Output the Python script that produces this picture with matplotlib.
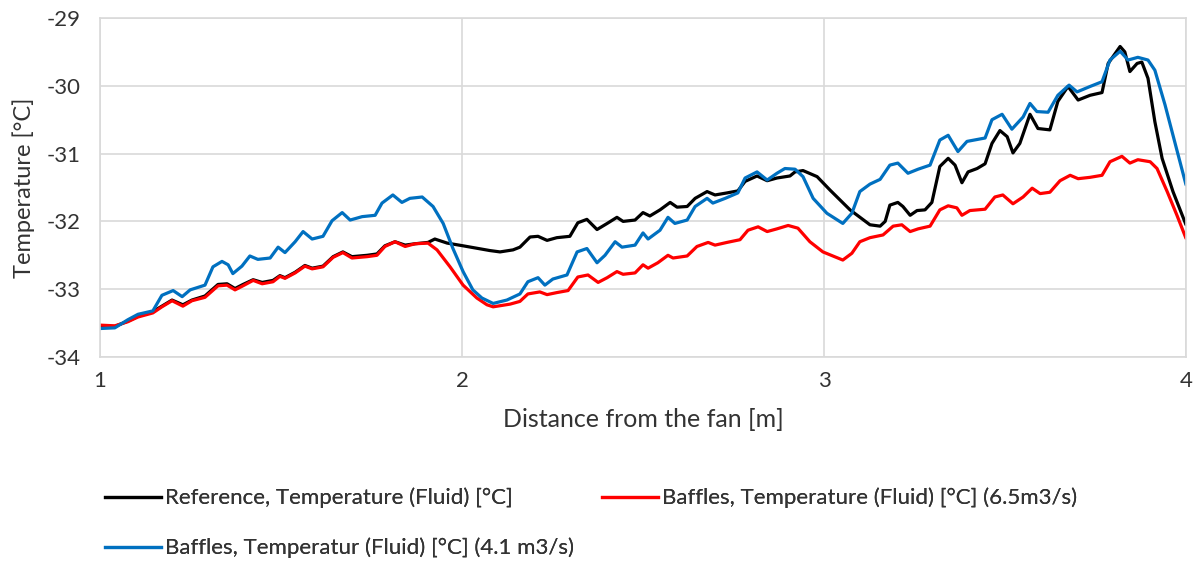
import matplotlib as mpl
mpl.use('Agg')
import matplotlib.pyplot as plt
from matplotlib.lines import Line2D

plt.rcParams['font.family'] = ['Lato', 'DejaVu Sans']
plt.rcParams['axes.unicode_minus'] = False

# distance from the fan [m] / fluid temperature [degC]
ref_x = [1.000, 1.041, 1.077, 1.105, 1.146, 1.171, 1.199, 1.229, 1.254, 1.290,
         1.326, 1.351, 1.373, 1.395, 1.423, 1.448, 1.478, 1.497, 1.511, 1.539,
         1.566, 1.586, 1.616, 1.644, 1.671, 1.696, 1.738, 1.765, 1.787, 1.815,
         1.843, 1.870, 1.906, 1.925, 1.959, 2.003, 2.077, 2.105, 2.141, 2.160,
         2.188, 2.210, 2.235, 2.262, 2.298, 2.320, 2.345, 2.373, 2.401, 2.428,
         2.445, 2.478, 2.500, 2.519, 2.547, 2.575, 2.594, 2.622, 2.644, 2.677,
         2.699, 2.732, 2.762, 2.782, 2.815, 2.843, 2.870, 2.906, 2.920, 2.942,
         2.981, 3.017, 3.072, 3.127, 3.155, 3.169, 3.182, 3.204, 3.218, 3.238,
         3.257, 3.279, 3.298, 3.320, 3.343, 3.362, 3.381, 3.398, 3.423, 3.445,
         3.464, 3.486, 3.506, 3.522, 3.541, 3.569, 3.591, 3.624, 3.646, 3.674,
         3.702, 3.735, 3.768, 3.785, 3.818, 3.831, 3.845, 3.865, 3.878, 3.895,
         3.914, 3.934, 3.964, 4.000]
ref_t = [-33.55, -33.55, -33.47, -33.40, -33.33, -33.25, -33.16, -33.23, -33.16, -33.10,
         -32.93, -32.92, -32.99, -32.93, -32.86, -32.90, -32.87, -32.80, -32.83, -32.75,
         -32.65, -32.69, -32.66, -32.52, -32.45, -32.52, -32.50, -32.48, -32.36, -32.30,
         -32.35, -32.33, -32.31, -32.26, -32.32, -32.36, -32.43, -32.45, -32.42, -32.38,
         -32.23, -32.22, -32.28, -32.24, -32.22, -32.02, -31.97, -32.12, -32.03, -31.94,
         -32.00, -31.98, -31.87, -31.92, -31.83, -31.72, -31.79, -31.78, -31.66, -31.56,
         -31.61, -31.58, -31.55, -31.41, -31.33, -31.40, -31.36, -31.33, -31.27, -31.25,
         -31.34, -31.54, -31.83, -32.05, -32.07, -32.00, -31.76, -31.72, -31.78, -31.91,
         -31.84, -31.83, -31.72, -31.19, -31.07, -31.17, -31.43, -31.27, -31.22, -31.15,
         -30.85, -30.66, -30.75, -30.99, -30.85, -30.42, -30.63, -30.65, -30.23, -30.01,
         -30.21, -30.14, -30.10, -29.67, -29.42, -29.50, -29.79, -29.67, -29.65, -29.89,
         -30.53, -31.07, -31.56, -32.05]

b65_x = [1.000, 1.041, 1.077, 1.105, 1.146, 1.171, 1.199, 1.229, 1.254, 1.290,
         1.326, 1.351, 1.373, 1.395, 1.423, 1.448, 1.478, 1.497, 1.511, 1.539,
         1.566, 1.586, 1.616, 1.644, 1.671, 1.696, 1.738, 1.765, 1.787, 1.815,
         1.843, 1.870, 1.906, 1.931, 1.967, 2.003, 2.041, 2.069, 2.086, 2.133,
         2.160, 2.182, 2.215, 2.235, 2.262, 2.293, 2.320, 2.348, 2.376, 2.401,
         2.428, 2.445, 2.478, 2.500, 2.514, 2.541, 2.569, 2.583, 2.622, 2.649,
         2.680, 2.699, 2.732, 2.768, 2.790, 2.818, 2.843, 2.870, 2.901, 2.928,
         2.961, 2.997, 3.052, 3.077, 3.099, 3.127, 3.163, 3.191, 3.215, 3.238,
         3.260, 3.293, 3.320, 3.343, 3.367, 3.381, 3.403, 3.445, 3.472, 3.494,
         3.522, 3.550, 3.575, 3.597, 3.624, 3.652, 3.680, 3.702, 3.735, 3.768,
         3.790, 3.823, 3.845, 3.867, 3.901, 3.920, 3.948, 3.975, 4.000]
b65_t = [-33.53, -33.54, -33.48, -33.41, -33.35, -33.26, -33.17, -33.25, -33.17, -33.12,
         -32.95, -32.94, -33.01, -32.95, -32.87, -32.92, -32.89, -32.81, -32.84, -32.76,
         -32.66, -32.70, -32.67, -32.53, -32.46, -32.54, -32.52, -32.50, -32.37, -32.30,
         -32.37, -32.33, -32.32, -32.42, -32.67, -32.94, -33.13, -33.23, -33.26, -33.22,
         -33.18, -33.07, -33.04, -33.08, -33.05, -33.02, -32.82, -32.79, -32.90, -32.83,
         -32.74, -32.78, -32.76, -32.64, -32.69, -32.61, -32.50, -32.54, -32.51, -32.37,
         -32.31, -32.35, -32.31, -32.27, -32.13, -32.08, -32.15, -32.11, -32.06, -32.10,
         -32.30, -32.45, -32.57, -32.47, -32.30, -32.24, -32.20, -32.07, -32.05, -32.15,
         -32.11, -32.07, -31.83, -31.77, -31.80, -31.91, -31.84, -31.82, -31.64, -31.61,
         -31.74, -31.64, -31.51, -31.59, -31.57, -31.40, -31.32, -31.37, -31.35, -31.32,
         -31.12, -31.04, -31.14, -31.09, -31.12, -31.22, -31.56, -31.91, -32.25]

b41_x = [1.000, 1.041, 1.077, 1.105, 1.146, 1.171, 1.202, 1.227, 1.249, 1.290,
         1.312, 1.337, 1.354, 1.367, 1.392, 1.414, 1.436, 1.470, 1.492, 1.511,
         1.539, 1.561, 1.586, 1.616, 1.641, 1.669, 1.691, 1.724, 1.760, 1.779,
         1.809, 1.834, 1.856, 1.890, 1.920, 1.948, 1.975, 2.003, 2.030, 2.055,
         2.086, 2.124, 2.160, 2.182, 2.210, 2.229, 2.251, 2.290, 2.318, 2.345,
         2.373, 2.395, 2.423, 2.442, 2.478, 2.500, 2.514, 2.547, 2.569, 2.588,
         2.622, 2.644, 2.677, 2.693, 2.727, 2.762, 2.782, 2.815, 2.843, 2.870,
         2.892, 2.920, 2.942, 2.970, 3.008, 3.052, 3.077, 3.099, 3.127, 3.155,
         3.182, 3.204, 3.232, 3.260, 3.293, 3.320, 3.343, 3.370, 3.395, 3.445,
         3.464, 3.492, 3.519, 3.550, 3.569, 3.588, 3.619, 3.646, 3.677, 3.699,
         3.735, 3.768, 3.790, 3.818, 3.840, 3.867, 3.895, 3.914, 3.942, 3.970,
         4.000]
b41_t = [-33.58, -33.57, -33.45, -33.37, -33.32, -33.09, -33.02, -33.11, -33.01, -32.94,
         -32.67, -32.59, -32.64, -32.77, -32.66, -32.51, -32.56, -32.54, -32.38, -32.46,
         -32.30, -32.15, -32.26, -32.22, -31.99, -31.87, -31.98, -31.93, -31.91, -31.73,
         -31.61, -31.72, -31.66, -31.64, -31.78, -32.03, -32.40, -32.74, -33.01, -33.13,
         -33.21, -33.16, -33.07, -32.89, -32.83, -32.94, -32.85, -32.79, -32.45, -32.40,
         -32.61, -32.50, -32.30, -32.38, -32.35, -32.17, -32.26, -32.13, -31.94, -32.03,
         -31.98, -31.78, -31.66, -31.73, -31.66, -31.58, -31.36, -31.27, -31.39, -31.29,
         -31.22, -31.23, -31.34, -31.66, -31.88, -32.03, -31.88, -31.56, -31.45, -31.38,
         -31.17, -31.14, -31.29, -31.23, -31.17, -30.80, -30.73, -30.97, -30.82, -30.77,
         -30.50, -30.42, -30.64, -30.46, -30.26, -30.38, -30.39, -30.14, -29.99, -30.09,
         -30.01, -29.94, -29.62, -29.49, -29.62, -29.58, -29.62, -29.77, -30.28, -30.85,
         -31.46]

labels = ['Reference, Temperature (Fluid) [°C]',
          'Baffles, Temperature (Fluid) [°C] (6.5m3/s)',
          'Baffles, Temperatur (Fluid) [°C] (4.1 m3/s)']
colors = ['#000000', '#FF0000', '#0070C0']
txt = '#333333'

fig = plt.figure(figsize=(11.94, 5.61), dpi=100)
ax = fig.add_axes([100 / 1194, 1 - 357 / 561, 1086 / 1194, 339 / 561])

series = [(ref_x, ref_t), (b65_x, b65_t), (b41_x, b41_t)]
lines = []
for (xs, ys), c, lab in zip(series, colors, labels):
    ln, = ax.plot(xs, ys, color=c, lw=2.3, label=lab,
                  solid_joinstyle='round', solid_capstyle='round')
    lines.append(ln)

ax.set_xlim(1, 4)
ax.set_ylim(-34, -29)
ax.set_xticks([1, 2, 3, 4])
ax.set_yticks([-34, -33, -32, -31, -30, -29])
ax.grid(True, color='#D9D9D9', lw=1.2)
ax.set_axisbelow(True)
for s in ax.spines.values():
    s.set_color('#D9D9D9')
    s.set_linewidth(1.2)
ax.tick_params(length=0, labelsize=16, colors=txt, pad=10)
ax.tick_params(axis='y', pad=14)
ax.set_xlabel('Distance from the fan [m]', fontsize=18, color=txt, labelpad=12)
ax.set_ylabel('Temperature [°C]', fontsize=17, color=txt, labelpad=8)

# legend entries laid out row by row
pos = [(105, 498), (602, 498), (105, 548)]
for ln, (px, py) in zip(lines, pos):
    h = Line2D([], [], color=ln.get_color(), lw=2.3)
    leg = fig.legend([h], [ln.get_label()], loc='center left',
                     bbox_to_anchor=(px / 1194, 1 - py / 561),
                     frameon=False, fontsize=16, handlelength=2.5,
                     handletextpad=0.18, borderaxespad=0, borderpad=0)
    for t in leg.get_texts():
        t.set_color(txt)
    fig.add_artist(leg)

fig.savefig('out.png', dpi=100)
